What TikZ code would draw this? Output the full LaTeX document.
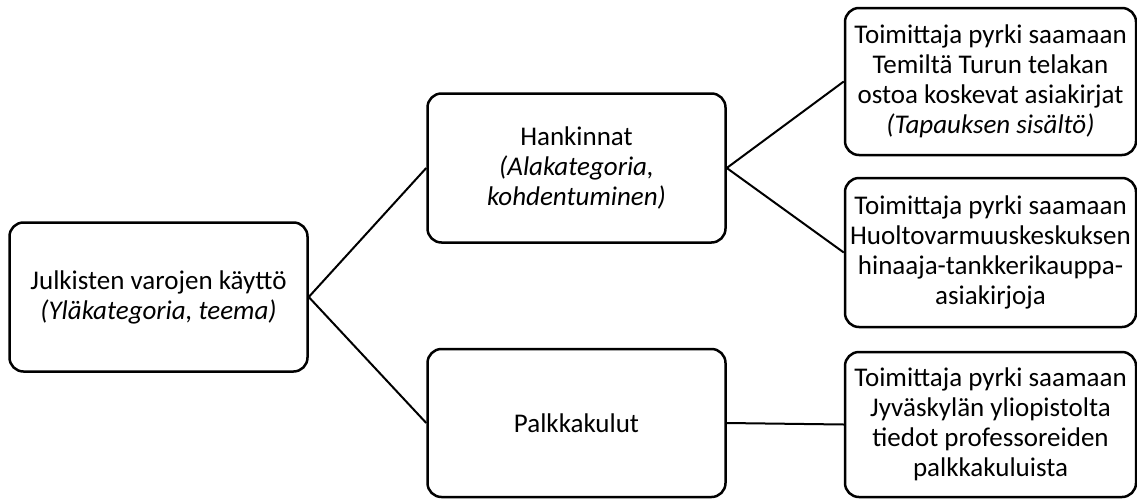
\documentclass[tikz,border=0pt]{standalone}
\usepackage{fontspec}
\setmainfont{Carlito}
\pgfdeclarelayer{bg}
\pgfsetlayers{bg,main}
\tikzset{
    every node/.style={rectangle, rounded corners=14pt, draw, line width=2.5pt, inner sep=0pt, align=center, font=\fontsize{27}{30}\selectfont}
}
\tikzset{box/.style={minimum width=298pt, minimum height=149pt}}
\tikzset{leaf/.style={minimum width=291pt, minimum height=147pt}}
\tikzset{every edge/.append style={line width=2pt}}

\begin{document}
\begin{tikzpicture}[x=1pt, y=-1pt]
    \useasboundingbox (0,0) rectangle (1137,498);

    \node (t1) [box] at (158.5, 297) {Julkisten varojen käyttö\\\textit{(Yläkategoria, teema)}};

    \node (a1) [box] at (576.5, 168) {Hankinnat\\\textit{(Alakategoria,}\\\textit{kohdentuminen)}};
    \node (a2) [box, minimum height=148pt] at (576.5, 423) {Palkkakulut};

    \node (c1) [leaf] at (990.5, 81.5) {Toimittaja pyrki saamaan\\Temiltä Turun telakan\\ostoa koskevat asiakirjat\\\textit{(Tapauksen sisältö)}};
    \node (c2) [leaf, minimum height=149pt] at (990.5, 252.5) {Toimittaja pyrki saamaan\\Huoltovarmuuskeskuksen\\hinaaja-tankkerikauppa-\\asiakirjoja};
    \node (c3) [leaf, minimum height=145pt] at (990.5, 424.5) {Toimittaja pyrki saamaan\\Jyväskylän yliopistolta\\tiedot professoreiden\\palkkakuluista};

    \begin{pgfonlayer}{bg}
        \draw (t1.east) edge (a1.west);
        \draw (t1.east) edge (a2.west);

        \draw (a1.east) edge (c1.west);
        \draw (a1.east) edge (c2.west);
        \draw (a2.east) edge (c3.west);
    \end{pgfonlayer}
\end{tikzpicture}
\end{document}
